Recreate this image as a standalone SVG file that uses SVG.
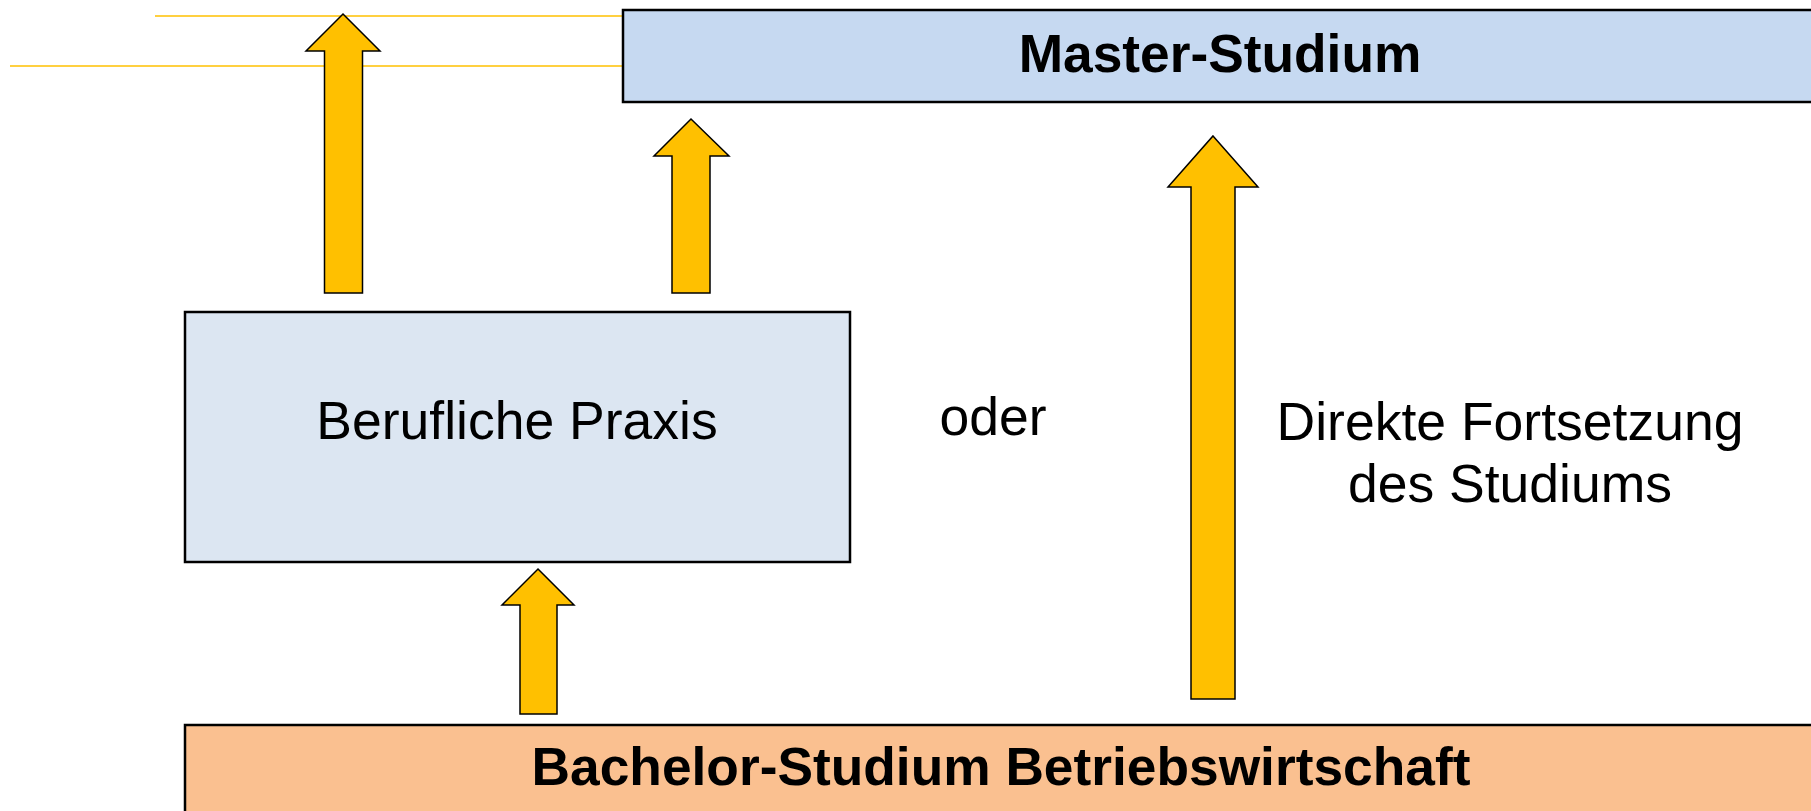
<svg xmlns="http://www.w3.org/2000/svg" width="1811" height="811" viewBox="0 0 1811 811">
<style>
.box{stroke:#000;stroke-width:2.5}
.arr{fill:#FFC000;stroke:#000;stroke-width:1.5;stroke-linejoin:miter}
.guide{stroke:#FFC000;stroke-width:1.5;fill:none}
text{font-family:"Liberation Sans",Arial,sans-serif;fill:#000;text-anchor:middle}
.b{font-weight:bold;font-size:53.3px}
.n{font-size:53.5px}
</style>
<rect width="1811" height="811" fill="#fff"/>
<g id="guides">
<line class="guide" x1="155" y1="16" x2="623" y2="16"/>
<line class="guide" x1="10" y1="66" x2="623" y2="66"/>
</g>
<g id="master">
<rect class="box" x="623" y="10" width="1200" height="92" fill="#C6D9F1"/>
<text class="b" x="1220" y="72">Master-Studium</text>
</g>
<g id="praxis">
<rect class="box" x="185" y="312" width="665" height="250" fill="#DCE6F2"/>
<text class="n" x="517" y="439">Berufliche Praxis</text>
</g>
<g id="bachelor">
<rect class="box" x="185" y="725" width="1640" height="100" fill="#FAC090"/>
<text class="b" x="1001" y="785">Bachelor-Studium Betriebswirtschaft</text>
</g>
<g id="labels">
<text class="n" x="993" y="435">oder</text>
<text class="n" x="1510" y="440">Direkte Fortsetzung</text>
<text class="n" x="1510" y="502">des Studiums</text>
</g>
<g id="connectors">
<polygon class="arr" points="343,14 380,51 362.5,51 362.5,293 324.5,293 324.5,51 306,51"/>
<polygon class="arr" points="691,119 729,156 710,156 710,293 672,293 672,156 654,156"/>
<polygon class="arr" points="538,569 574,605 557,605 557,714 520,714 520,605 502,605"/>
<polygon class="arr" points="1213,136 1258,187 1235,187 1235,699 1191,699 1191,187 1168,187"/>
</g>
</svg>
